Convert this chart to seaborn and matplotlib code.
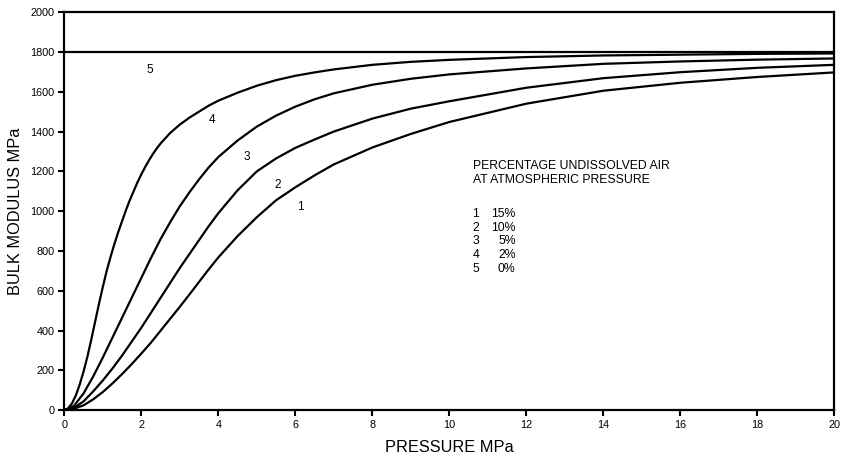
import matplotlib
matplotlib.use("Agg")
import matplotlib.pyplot as plt
import pandas as pd
import seaborn as sns

# Effective bulk modulus of oil vs. pressure for several undissolved air contents
p1 = [0, 0.25, 0.5, 0.75, 1.0, 1.25, 1.5, 1.75, 2.0, 2.25, 2.5, 2.75, 3.0, 3.25, 3.5, 3.75, 4.0, 4.5, 5.0, 5.5,
      6.0, 6.5, 7.0, 8.0, 9.0, 10, 12, 14, 16, 18, 20]
k1 = [0, 8, 25, 55, 92, 135, 182, 232, 285, 340, 400, 460, 520, 582, 645, 708, 768, 875, 970, 1055,
      1120, 1180, 1235, 1320, 1388, 1448, 1540, 1605, 1645, 1674, 1697]

p2 = [0, 0.25, 0.5, 0.75, 1.0, 1.25, 1.5, 1.75, 2.0, 2.25, 2.5, 2.75, 3.0, 3.25, 3.5, 3.75, 4.0, 4.5, 5.0, 5.5,
      6.0, 6.5, 7.0, 8.0, 9.0, 10, 12, 14, 16, 18, 20]
k2 = [0, 12, 45, 95, 150, 210, 275, 345, 415, 490, 565, 640, 715, 785, 855, 925, 990, 1105, 1200, 1265,
      1318, 1360, 1400, 1465, 1515, 1552, 1620, 1668, 1698, 1720, 1735]

p3 = [0, 0.25, 0.5, 0.75, 1.0, 1.25, 1.5, 1.75, 2.0, 2.25, 2.5, 2.75, 3.0, 3.25, 3.5, 3.75, 4.0, 4.5, 5.0, 5.5,
      6.0, 6.5, 7.0, 8.0, 9.0, 10, 12, 14, 16, 18, 20]
k3 = [0, 22, 85, 170, 265, 365, 465, 565, 665, 765, 860, 945, 1025, 1095, 1160, 1220, 1272, 1355, 1425, 1480,
      1525, 1562, 1592, 1635, 1665, 1687, 1717, 1740, 1752, 1761, 1767]

p4 = [0, 0.1, 0.2, 0.3, 0.4, 0.5, 0.6, 0.7, 0.8, 0.9, 1.0, 1.1, 1.2, 1.3, 1.4, 1.5, 1.6, 1.7, 1.8, 1.9,
      2.0, 2.1, 2.2, 2.3, 2.4, 2.5, 2.75, 3.0, 3.25, 3.5, 3.75, 4.0, 4.5, 5.0, 5.5, 6.0, 6.5, 7.0, 8.0, 9.0,
      10, 12, 14, 16, 18, 20]
k4 = [0, 10, 35, 75, 130, 195, 270, 355, 445, 535, 620, 700, 770, 835, 895, 950, 1005, 1055, 1100, 1145,
      1185, 1222, 1256, 1287, 1315, 1340, 1393, 1435, 1470, 1500, 1530, 1555, 1595, 1630, 1658, 1680, 1697, 1712, 1735, 1750,
      1760, 1774, 1782, 1786, 1790, 1792]

p5 = [0, 20]
k5 = [1800, 1800]

curve_ids = ["1", "2", "3", "4", "5"]
air_pct = ["15%", "10%", "5%", "2%", "0%"]

# Curve number labels: (pressure, modulus) positions
label_p = [6.13, 5.55, 4.74, 3.84, 2.22]
label_k = [1023, 1132, 1274, 1458, 1709]

x_ticks = list(range(0, 21, 2))
y_ticks = list(range(0, 2001, 200))

frames = []
for cid, p, k in zip(curve_ids, [p1, p2, p3, p4, p5], [k1, k2, k3, k4, k5]):
    frames.append(pd.DataFrame({"pressure": p, "modulus": k, "curve": cid}))
df = pd.concat(frames, ignore_index=True)

sns.set_theme(style="ticks")
plt.rcParams["font.family"] = ["Liberation Sans", "DejaVu Sans"]
plt.rcParams["text.color"] = "black"
plt.rcParams["axes.labelcolor"] = "black"

fig = plt.figure(figsize=(8.43, 4.62), dpi=100)
ax = fig.add_axes([0.0763, 0.1119, 0.9136, 0.862])

sns.lineplot(data=df, x="pressure", y="modulus", hue="curve",
             palette=["black"] * 5, linewidth=1.6, legend=False,
             estimator=None, sort=False, ax=ax)
for ln in ax.get_lines():
    ln.set_solid_joinstyle("round")

ax.set_xlim(0, 20)
ax.set_ylim(0, 2000)
ax.set_xticks(x_ticks)
ax.set_yticks(y_ticks)
ax.tick_params(axis="both", direction="out", length=4, width=1.5,
               labelsize=7.8, colors="black", pad=3)
for side in ["left", "bottom", "top", "right"]:
    ax.spines[side].set_visible(True)
    ax.spines[side].set_linewidth(1.6)
    ax.spines[side].set_color("black")

ax.set_xlabel("PRESSURE MPa", fontsize=11.8, labelpad=7, color="black")
ax.set_ylabel("BULK MODULUS MPa", fontsize=11.8, labelpad=5, color="black")

for cid, lp, lk in zip(curve_ids, label_p, label_k):
    ax.text(lp, lk, cid, fontsize=8.6, ha="center", va="center", color="black")

# Key describing the air content of each curve
ax.text(10.6, 1228, "PERCENTAGE UNDISSOLVED AIR", fontsize=8.8, ha="left", va="center", color="black")
ax.text(10.6, 1155, "AT ATMOSPHERIC PRESSURE", fontsize=8.8, ha="left", va="center", color="black")
for i, (cid, pct) in enumerate(zip(curve_ids, air_pct)):
    yk = 988 - i * 70
    ax.text(10.6, yk, cid, fontsize=8.8, ha="left", va="center", color="black")
    ax.text(11.72, yk, pct, fontsize=8.8, ha="right", va="center", color="black")

fig.savefig("out.png", dpi=100)
